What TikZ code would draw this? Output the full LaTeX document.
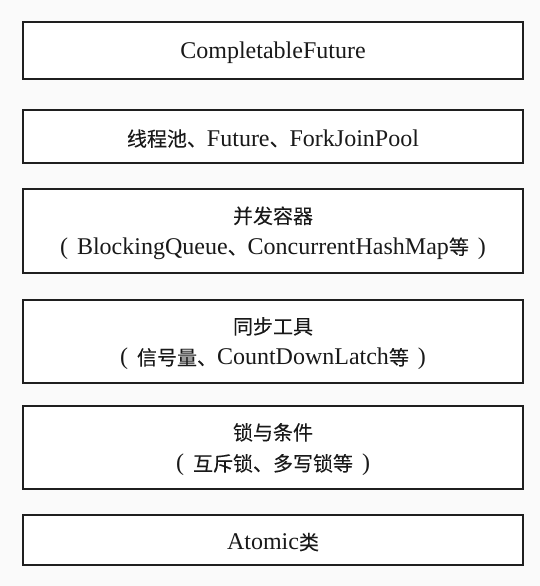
\documentclass[tikz,border=0pt]{standalone}
\usepackage{fontspec}
\setmainfont{Liberation Serif}
\newfontfamily\cjk[FakeBold=0.03]{Noto Sans CJK SC}
\newcommand{\zh}[1]{{\cjk\fontsize{20}{31}\selectfont #1}}
\newcommand{\lp}{(\hspace{9pt}}
\newcommand{\rp}{\hspace{9pt})}
\newcommand{\lst}{\rule{0pt}{21pt}}
\begin{document}
\begin{tikzpicture}[x=1pt,y=-1pt,
  layer/.style={draw=black!88, line width=1.5pt, fill=white, minimum width=500pt,
    inner sep=0pt, align=center, text=black!90,
    font=\fontsize{24}{31}\selectfont}]
\fill[black!2] (0,0) rectangle (540,586);
\useasboundingbox (0,0) rectangle (540,586);
\node[layer, minimum height=57pt] (b1) at (273,50.5) {\lst CompletableFuture};
\node[layer, minimum height=53pt] (b2) at (273,136.5) {\lst\zh{线程池、}Future\zh{、}ForkJoinPool};
\node[layer, minimum height=84pt] (b3) at (273,231) {\lst\zh{并发容器}\\\lst\lp BlockingQueue\zh{、}ConcurrentHashMap\zh{等}\rp};
\node[layer, minimum height=83pt] (b4) at (273,341.5) {\lst\zh{同步工具}\\\lst\lp\zh{信号量、}CountDownLatch\zh{等}\rp};
\node[layer, minimum height=83pt] (b5) at (273,447.5) {\lst\zh{锁与条件}\\\lst\lp\zh{互斥锁、多写锁等}\rp};
\node[layer, minimum height=50pt] (b6) at (273,540) {\lst Atomic\zh{类}};
\end{tikzpicture}
\end{document}
